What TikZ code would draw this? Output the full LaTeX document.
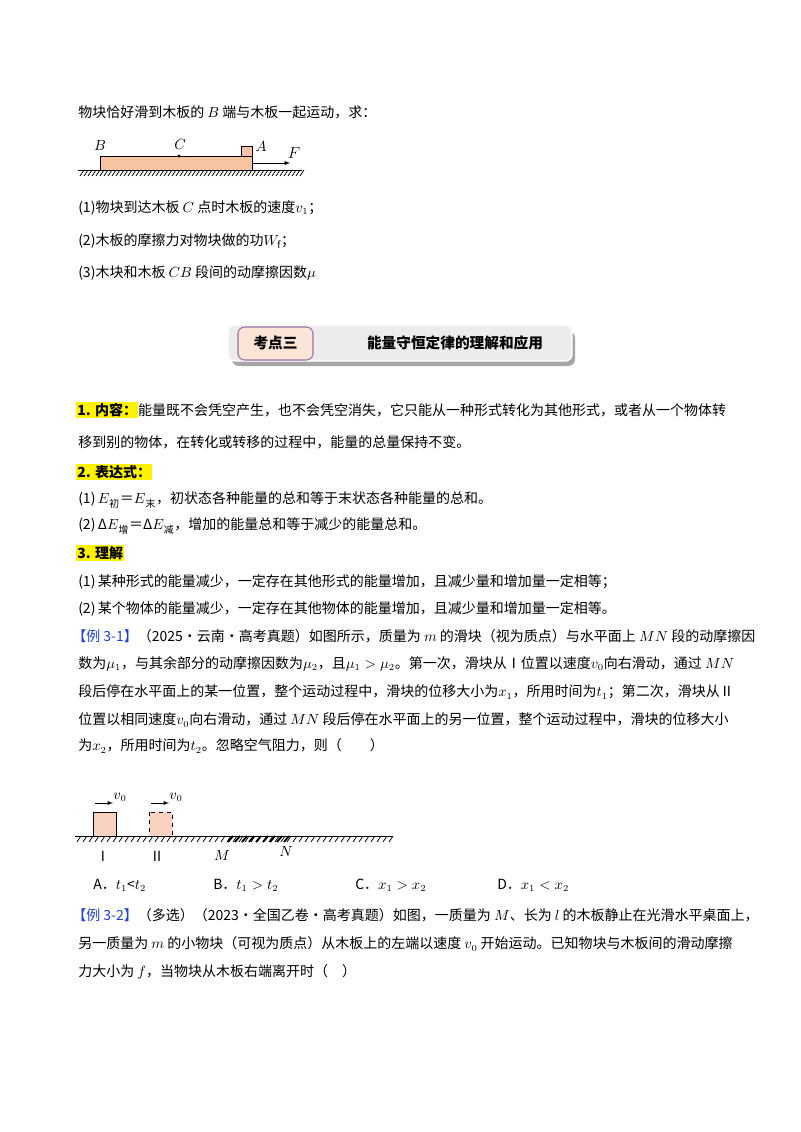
\documentclass[tikz,border=0pt]{standalone}
\usepackage{fontspec}
\setmainfont{Noto Sans CJK SC}
\usetikzlibrary{positioning}
\definecolor{boardfill}{HTML}{F7C4A2}
\definecolor{blockfill}{HTML}{F9D2C2}
\definecolor{tagfill}{HTML}{FBE5D6}
\definecolor{tagline}{HTML}{9B6FA8}
\definecolor{exblue}{HTML}{1F3FE0}
\newcommand{\hl}[1]{{\setlength{\fboxsep}{0.8pt}\colorbox{yellow}{\bfseries #1}}}
\newcommand{\exlabel}[1]{\textcolor{exblue}{【#1】}}
\tikzset{
  line/.style={anchor=west, inner sep=0pt, font=\fontsize{10.5}{12}\selectfont},
  lab/.style={inner sep=0pt, font=\fontsize{10.5}{12}\selectfont},
  ground/.style={line width=0.6pt},
}
\begin{document}
\begin{tikzpicture}[x=0.75pt,y=-0.75pt]
\useasboundingbox (0,0) rectangle (800,1132);

\node[line] (l1) at (78,112) {物块恰好滑到木板的 $B$ 端与木板一起运动，求：};

% board and block
\draw[ground] (78,170) -- (302,170);
\foreach \x in {80,84,...,300} \draw[ground] (\x,176) -- (\x+4,170);
\draw[fill=boardfill] (100,156) rectangle (252,170);
\draw[fill=boardfill] (241,146) rectangle (252,156);
\fill (179,156) circle (1.6);
\node[lab] (lB) at (100,146) {$B$};
\node[lab] (lC) at (180,145) {$C$};
\node[lab] (lA) at (261,147) {$A$};
\coordinate (fs) at (252,163);
\coordinate (fe) at (290,163);
\draw[-latex] (fs) -- (fe);
\node[lab, font=\fontsize{12}{12}\selectfont] (lF) at (294,153) {$F$};

\node[line] (q1) at (78,208) {(1)物块到达木板 $C$ 点时木板的速度$v_1$；};
\node[line] (q2) at (78,241) {(2)木板的摩擦力对物块做的功$W_\mathrm{f}$；};
\node[line] (q3) at (78,273) {(3)木块和木板 $CB$ 段间的动摩擦因数$\mu$};

% title bar
\fill[gray!70, rounded corners=5] (232,331) rectangle (575,366);
\draw[white, fill=gray!15, line width=1pt, rounded corners=5] (228,325) rectangle (572,361);
\draw[tagline, fill=tagfill, line width=0.8pt, rounded corners=5] (238,327) rectangle (313,360);
\node[font=\fontsize{11}{12}\selectfont\bfseries] (tag) at (275.5,343) {考点三};
\node[font=\fontsize{11}{12}\selectfont\bfseries] (title) at (455,343) {能量守恒定律的理解和应用};

\node[line] (a1) at (76,410) {\hl{1. 内容：}能量既不会凭空产生，也不会凭空消失，它只能从一种形式转化为其他形式，或者从一个物体转};
\node[line] (a2) at (78,442) {移到别的物体，在转化或转移的过程中，能量的总量保持不变。};
\node[line] (a3) at (76,472) {\hl{2. 表达式：}};
\node[line] (a4) at (78,500) {(1)\,$E$\textsubscript{初}＝$E$\textsubscript{末}，初状态各种能量的总和等于末状态各种能量的总和。};
\node[line] (a5) at (78,526) {(2)\,Δ$E$\textsubscript{增}＝Δ$E$\textsubscript{减}，增加的能量总和等于减少的能量总和。};
\node[line] (a6) at (76,553) {\hl{3. 理解}};
\node[line] (a7) at (78,582) {(1)\,某种形式的能量减少，一定存在其他形式的能量增加，且减少量和增加量一定相等；};
\node[line] (a8) at (78,609) {(2)\,某个物体的能量减少，一定存在其他物体的能量增加，且减少量和增加量一定相等。};

\node[line] (e1) at (72,636) {\exlabel{例 3-1}（2025·云南·高考真题）如图所示，质量为 $m$ 的滑块（视为质点）与水平面上 $MN$ 段的动摩擦因};
\node[line] (e2) at (78,664) {数为$\mu_1$，与其余部分的动摩擦因数为$\mu_2$，且$\mu_1>\mu_2$。第一次，滑块从Ⅰ位置以速度$v_0$向右滑动，通过 $MN$};
\node[line] (e3) at (78,692) {段后停在水平面上的某一位置，整个运动过程中，滑块的位移大小为$x_1$，所用时间为$t_1$；第二次，滑块从Ⅱ};
\node[line] (e4) at (78,720) {位置以相同速度$v_0$向右滑动，通过 $MN$ 段后停在水平面上的另一位置，整个运动过程中，滑块的位移大小};
\node[line] (e5) at (78,746) {为$x_2$，所用时间为$t_2$。忽略空气阻力，则（\quad\quad）};

% ground with MN section
\draw[ground] (75,836) -- (392,836);
\foreach \x in {77,83,...,390} \draw[ground] (\x,842) -- (\x+4,836);
\foreach \x in {228,235,...,286} \draw[line width=1.4pt] (\x,842) -- (\x+5,836);
\draw[fill=blockfill] (93,812) rectangle (116,836);
\draw[fill=blockfill, dashed] (149,812) rectangle (172,836);
\coordinate (s1) at (95,803);
\coordinate (t1) at (113,803);
\coordinate (s2) at (151,803);
\coordinate (t2) at (169,803);
\draw[-latex] (s1) -- (t1);
\draw[-latex] (s2) -- (t2);
\node[lab] (v1) at (120,797) {$v_0$};
\node[lab] (v2) at (176,797) {$v_0$};
\node[lab] (pI) at (103,856) {$\mathrm{I}$};
\node[lab] (pII) at (157,856) {$\mathrm{II}$};
\node[lab] (pM) at (222,855) {$M$};
\node[lab] (pN) at (286,851) {$N$};

\node[line] (oA) at (93,885) {A．$t_1$<$t_2$};
\node[line] (oB) at (213,885) {B．$t_1>t_2$};
\node[line] (oC) at (355,885) {C．$x_1>x_2$};
\node[line] (oD) at (497,885) {D．$x_1<x_2$};

\node[line] (f1) at (72,915) {\exlabel{例 3-2}（多选）（2023·全国乙卷·高考真题）如图，一质量为 $M$、长为 $l$ 的木板静止在光滑水平桌面上，};
\node[line] (f2) at (78,944) {另一质量为 $m$ 的小物块（可视为质点）从木板上的左端以速度 $v_0$ 开始运动。已知物块与木板间的滑动摩擦};
\node[line] (f3) at (78,972) {力大小为 $f$，当物块从木板右端离开时（\quad）};
\end{tikzpicture}
\end{document}
